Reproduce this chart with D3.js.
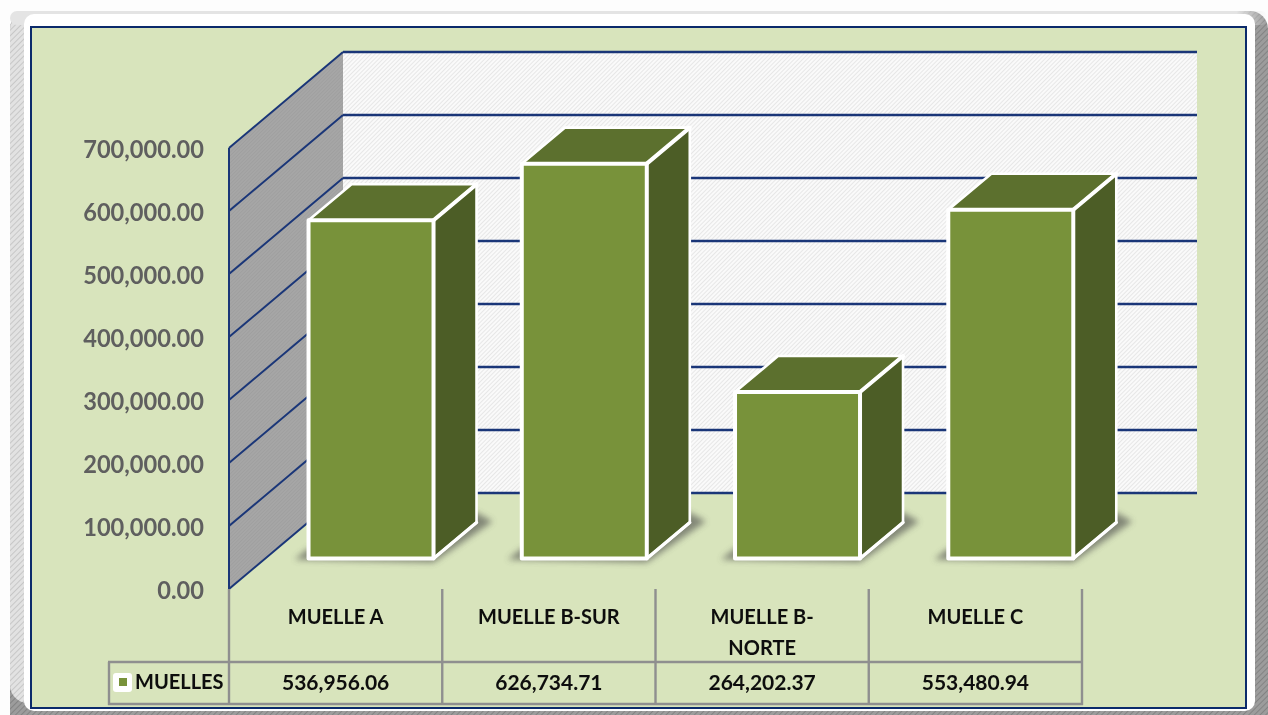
<!DOCTYPE html>
<html><head><meta charset="utf-8">
<script src="https://cdn.jsdelivr.net/npm/d3@7/dist/d3.min.js"></script>
<style>html,body{margin:0;padding:0;background:#fdfdfd;overflow:hidden}svg{display:block}text{font-family:Lato,"Open Sans",sans-serif}</style>
</head><body><div id="c"></div>
<script>
const categories = [["MUELLE A"],["MUELLE B-SUR"],["MUELLE B-","NORTE"],["MUELLE C"]];
const values = [536956.06,626734.71,264202.37,553480.94];
const valueLabels = ["536,956.06","626,734.71","264,202.37","553,480.94"];
const seriesName = "MUELLES";
const ticks = [0,100000,200000,300000,400000,500000,600000,700000];

const W=1268,H=715;
const svg=d3.select("#c").append("svg").attr("width",W).attr("height",H);
const defs=svg.append("defs");
function hatch(id,bg,fg,size,w){
  const p=defs.append("pattern").attr("id",id).attr("width",size).attr("height",size)
    .attr("patternUnits","userSpaceOnUse").attr("patternTransform","rotate(45)");
  p.append("rect").attr("width",size).attr("height",size).attr("fill",bg);
  p.append("line").attr("x1",0).attr("x2",0).attr("y1",0).attr("y2",size).attr("stroke",fg).attr("stroke-width",w);
}
hatch("wallHatch","#fafafa","#dedede",3,1.3);
hatch("sideHatch","#a6a6a6","#9b9b9b",2.5,1);
hatch("frameHatch","#9c9c9c","#808080",4,1.8);
hatch("frameLight","#e2e2e2","#c4c4c4",4,1.8);
const tgrad=defs.append("linearGradient").attr("id","topEdge");
tgrad.append("stop").attr("offset","0.975").attr("stop-color","#e4e4e4");
tgrad.append("stop").attr("offset","1").attr("stop-color","#e4e4e4").attr("stop-opacity",0);
const lgrad=defs.append("linearGradient").attr("id","leftFade").attr("x1",0).attr("x2",0).attr("y1",0).attr("y2",1);
const blur=defs.append("filter").attr("id","sh").attr("x","-30%").attr("y","-30%").attr("width","160%").attr("height","160%");
blur.append("feGaussianBlur").attr("stdDeviation",3.2);
const soft=defs.append("filter").attr("id","soft");
soft.append("feGaussianBlur").attr("stdDeviation",0.45);

// frame
svg.append("rect").attr("x",10).attr("y",11).attr("width",1258).attr("height",724).attr("rx",18).attr("fill","url(#frameHatch)");
svg.append("rect").attr("x",10).attr("y",11).attr("width",50).attr("height",692).attr("rx",18).attr("fill","url(#frameLight)");
svg.append("rect").attr("x",10).attr("y",11).attr("width",1258).attr("height",14).attr("rx",7).attr("fill","url(#topEdge)");
svg.append("rect").attr("x",24).attr("y",14).attr("width",1231).attr("height",697).attr("rx",10).attr("fill","#fff");
svg.append("rect").attr("x",31).attr("y",27).attr("width",1215).attr("height",681)
  .attr("fill","#d8e4bc").attr("stroke","#0b2a6b").attr("stroke-width",2);

// scales
const y=d3.scaleLinear().domain([0,700000]).range([589,148]);
const x=d3.scaleBand().domain(categories.map(c=>c.join(" "))).range([229,1082]);
const dx=114,dy=-96, wallRight=1197;
const g=svg.append("g");

// back wall and side wall
const wallTop=y(700000),wallBot=y(0);
g.append("polygon").attr("points",[[229+dx,wallTop+dy],[wallRight,wallTop+dy],[wallRight,wallBot+dy],[229+dx,wallBot+dy]].join(" "))
  .attr("fill","url(#wallHatch)");
g.append("polygon").attr("points",[[229,wallTop],[229+dx,wallTop+dy],[229+dx,wallBot+dy],[229,wallBot]].join(" "))
  .attr("fill","url(#sideHatch)");
// gridlines
ticks.forEach(t=>{
  g.append("line").attr("x1",229+dx).attr("x2",wallRight).attr("y1",y(t)+dy).attr("y2",y(t)+dy)
    .attr("stroke","#1a3678").attr("stroke-width",2.4);
  g.append("line").attr("x1",229).attr("x2",229+dx).attr("y1",y(t)).attr("y2",y(t)+dy)
    .attr("stroke","#1a3678").attr("stroke-width",2);
});
g.append("line").attr("x1",229).attr("x2",229).attr("y1",wallTop).attr("y2",wallBot).attr("stroke","#1a3678").attr("stroke-width",2);
// tick labels
const fmt=d3.format(",.2f");
ticks.forEach(t=>{
  const tx=g.append("text").attr("x",204).attr("y",y(t)+10).attr("text-anchor","end")
    .attr("font-size",25).attr("font-weight",700).attr("fill","#5f5f5f").attr("filter","url(#soft)").text(fmt(t));
  const len=tx.node().getComputedTextLength();
  tx.attr("textLength",len*0.945).attr("lengthAdjust","spacingAndGlyphs");
});

// bars
const offX=35.4,floorY=-30.5,bw=125,bdx=43,bdy=-36;
const zero=y(0)+floorY;
const yBar=d3.scaleLinear().domain([0,700000]).range([zero,zero-(y(0)-y(700000))]);
categories.forEach((c,i)=>{
  const cx=x(c.join(" "))+x.bandwidth()/2+offX, l=cx-bw/2, r=cx+bw/2, t=yBar(values[i]);
  const b=g.append("g");
  b.append("polygon").attr("points",[[l-14,zero+1],[r,zero+4],[r+bdx+16,zero+bdy-1],[r+bdx,zero+bdy-10],[l,zero-10]].join(" "))
    .attr("fill","#4a4a4a").attr("opacity",.6).attr("filter","url(#sh)");
  const face=(pts,f)=>b.append("polygon").attr("points",pts.join(" ")).attr("fill",f)
    .attr("stroke","#fff").attr("stroke-width",2.6).attr("stroke-linejoin","round");
  face([[l,t],[l+bdx,t+bdy],[r+bdx,t+bdy],[r,t]],"#5c702e");
  face([[r,t],[r+bdx,t+bdy],[r+bdx,zero+bdy],[r,zero]],"#4c5d26");
  face([[l,t],[r,t],[r,zero],[l,zero]],"#78923a").attr("stroke-width",4);
  b.append("path").attr("d",d3.line()([[r,t],[r+bdx,t+bdy]])).attr("stroke","#fff").attr("stroke-width",4).attr("stroke-linecap","round");
  b.append("path").attr("d",d3.line()([[r,zero],[r+bdx,zero+bdy]])).attr("stroke","#fff").attr("stroke-width",3.4).attr("stroke-linecap","round");
});

// data table
const tg=svg.append("g");
const gc="#8f8f8f";
const hl=(x1,x2,yy)=>tg.append("line").attr("x1",x1).attr("x2",x2).attr("y1",yy).attr("y2",yy).attr("stroke",gc).attr("stroke-width",2.4);
const vl=(xx,y1,y2)=>tg.append("line").attr("x1",xx).attr("x2",xx).attr("y1",y1).attr("y2",y2).attr("stroke",gc).attr("stroke-width",2.4);
hl(108,1083,662); hl(108,1083,704);
vl(109,662,705);
vl(229,589,705);
categories.forEach((c,i)=>{ vl(x(c.join(" "))+x.bandwidth(),589,705); });
categories.forEach((c,i)=>{
  const cx=x(c.join(" "))+x.bandwidth()/2;
  c.forEach((s,j)=>tg.append("text").attr("x",cx).attr("y",624+j*31).attr("text-anchor","middle")
    .attr("font-size",20).attr("font-weight",700).attr("fill","#0c0c0c").attr("filter","url(#soft)").text(s));
  tg.append("text").attr("x",cx).attr("y",690).attr("text-anchor","middle")
    .attr("font-size",21).attr("font-weight",700).attr("fill","#0c0c0c").attr("filter","url(#soft)").text(valueLabels[i]);
});
tg.append("rect").attr("x",113).attr("y",673).attr("width",19).attr("height",19).attr("rx",3).attr("fill","#fff");
tg.append("rect").attr("x",119).attr("y",678).attr("width",8).attr("height",8).attr("fill","#78923a");
tg.append("text").attr("x",135).attr("y",689).attr("font-size",20).attr("font-weight",700).attr("fill","#0c0c0c").attr("filter","url(#soft)").text(seriesName);
</script></body></html>
